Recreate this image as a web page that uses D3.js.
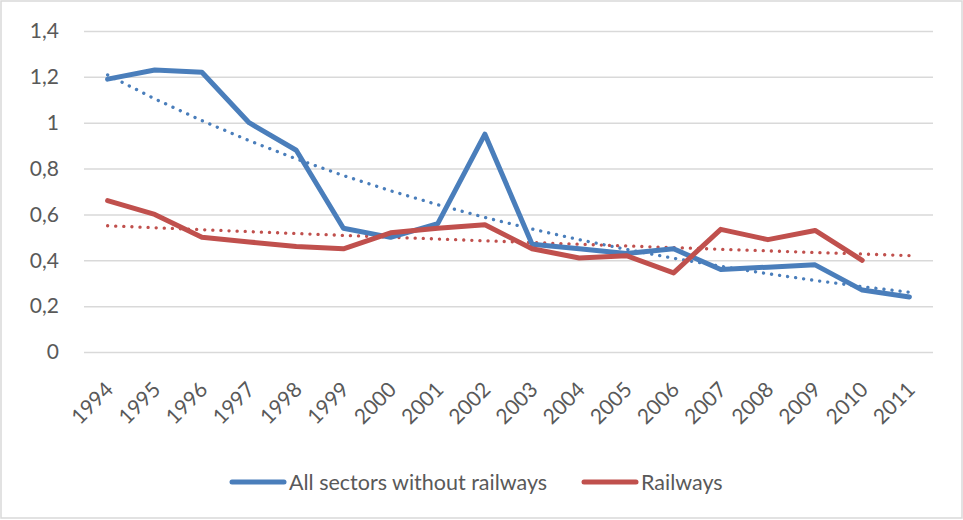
<!DOCTYPE html>
<html><head><meta charset="utf-8">
<script src="https://cdn.jsdelivr.net/npm/d3@7"></script>
<style>body{margin:0;background:#fff}svg{display:block}text{font-family:Lato,"Open Sans",sans-serif;fill:#595959}</style>
</head><body><svg id="c" width="963" height="520"></svg>
<script>
const years = ["1994","1995","1996","1997","1998","1999","2000","2001","2002","2003","2004","2005","2006","2007","2008","2009","2010","2011"];
const allSectors = [1.19,1.23,1.22,1.00,0.88,0.54,0.50,0.56,0.95,0.47,0.45,0.43,0.45,0.36,0.37,0.38,0.27,0.24];
const railways = [0.66,0.60,0.50,0.48,0.46,0.45,0.52,0.54,0.555,0.45,0.41,0.42,0.345,0.535,0.49,0.53,0.40,null];
const yTicks = [0,0.2,0.4,0.6,0.8,1,1.2,1.4];
const seriesNames = ["All sectors without railways","Railways"];
const colors = ["#4a7ebb","#c0504d"];
const FONT = "Lato";

const svg = d3.select("#c");
svg.append("rect").attr("x",1).attr("y",1).attr("width",961).attr("height",517).attr("fill","#fff").attr("stroke","#d9d9d9").attr("stroke-width",1.5);

const x = d3.scaleBand().domain(years).range([84,933]);
const y = d3.scaleLinear().domain([0,1.4]).range([352,31]);
const cx = d => x(d)+x.bandwidth()/2;

const fmt = v => String(v).replace(".",",");
const gy = svg.append("g").attr("transform","translate(84,0)")
  .call(d3.axisLeft(y).tickValues(yTicks).tickFormat(fmt).tickSize(-849).tickPadding(25));
gy.select(".domain").remove();
gy.selectAll(".tick line").attr("stroke","#d9d9d9").attr("stroke-width",1.5);
gy.selectAll(".tick text").attr("font-size",21).style("font-family",FONT).attr("fill","#595959");

const gx = svg.append("g").attr("transform","translate(0,352)")
  .call(d3.axisBottom(x).tickSize(0).tickPadding(0));
gx.select(".domain").remove();
gx.selectAll(".tick text").attr("font-size",21).style("font-family",FONT).attr("fill","#595959")
  .attr("text-anchor","end").attr("dy","0")
  .attr("transform","translate(7,39) rotate(-45)");

// exponential trendline (least squares on ln y), as in the source chart
function trend(vals){
  const pts = vals.map((v,i)=>[i,v]).filter(p=>p[1]!=null).map(p=>[p[0],Math.log(p[1])]);
  const mx=d3.mean(pts,p=>p[0]), my=d3.mean(pts,p=>p[1]);
  const b=d3.sum(pts,p=>(p[0]-mx)*(p[1]-my))/d3.sum(pts,p=>(p[0]-mx)**2);
  const a=my-b*mx;
  return years.map((yr,i)=>Math.exp(a+b*i));
}

const line = d3.line().defined(d=>d[1]!=null).x(d=>cx(d[0])).y(d=>y(d[1]));
[allSectors,railways].forEach((vals,k)=>{
  const t = trend(vals);
  svg.append("path").datum(years.map((yr,i)=>[yr,t[i]])).attr("d",line)
    .attr("fill","none").attr("stroke",colors[k]).attr("stroke-width",3.3)
    .attr("stroke-linecap","round").attr("stroke-dasharray","0.1 8");
});
[allSectors,railways].forEach((vals,k)=>{
  svg.append("path").datum(years.map((yr,i)=>[yr,vals[i]])).attr("d",line)
    .attr("fill","none").attr("stroke",colors[k]).attr("stroke-width",5)
    .attr("stroke-linejoin","round").attr("stroke-linecap","round");
});

const leg = svg.append("g");
const lx = [232,584];
seriesNames.forEach((n,k)=>{
  leg.append("line").attr("x1",lx[k]).attr("x2",lx[k]+52).attr("y1",482).attr("y2",482)
    .attr("stroke",colors[k]).attr("stroke-width",5).attr("stroke-linecap","round");
  leg.append("text").attr("x",lx[k]+57).attr("y",482).attr("dy","0.35em").attr("font-size",21.5).text(n);
});
</script></body></html>
